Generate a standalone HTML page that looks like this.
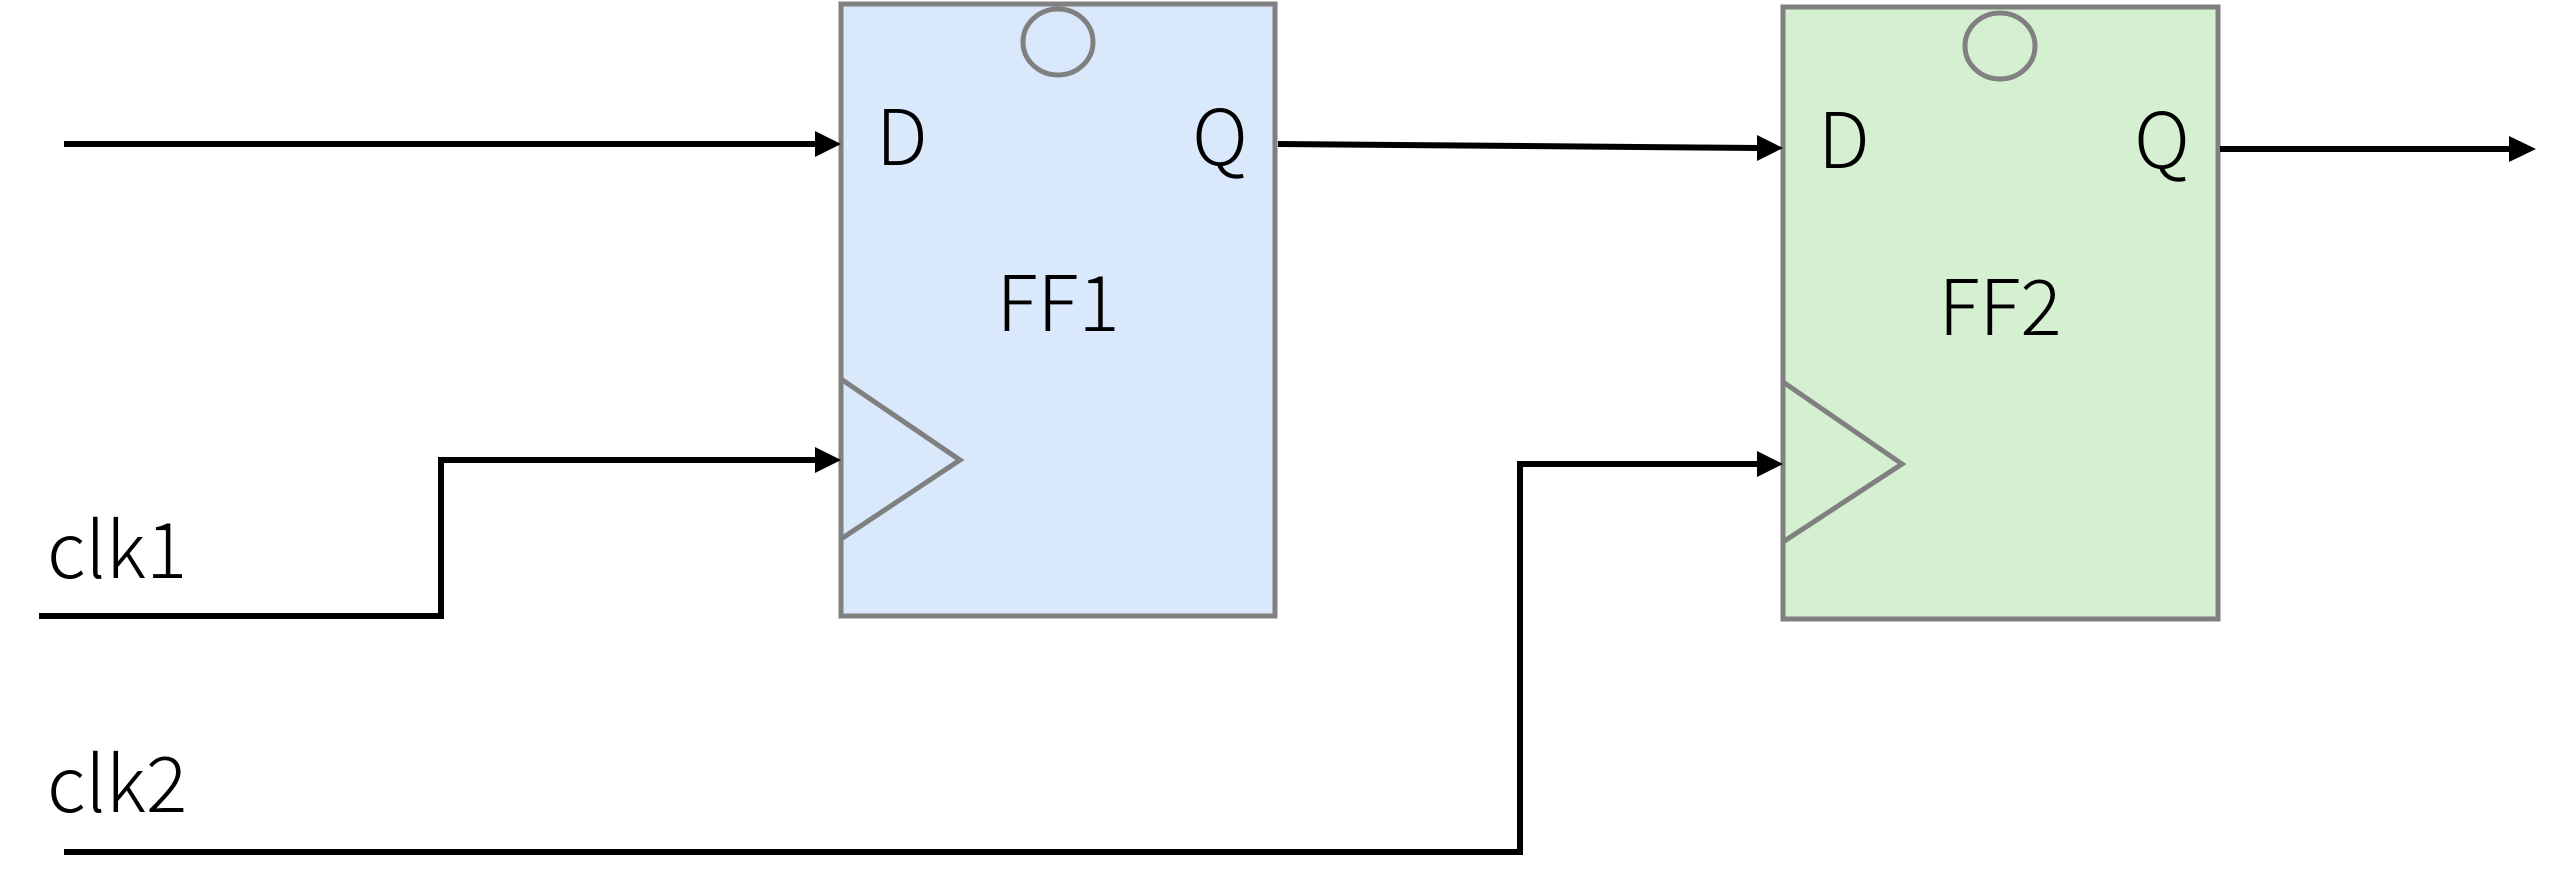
<!DOCTYPE html>
<html><head><meta charset="utf-8"><style>
html,body{margin:0;padding:0;background:#fff;width:2560px;height:884px;overflow:hidden}
svg{display:block}
text{font-family:"Noto Sans CJK JP","Liberation Sans",sans-serif;font-weight:300;font-size:77px;fill:#000}
</style></head><body>
<svg width="2560" height="884" viewBox="0 0 2560 884" xmlns="http://www.w3.org/2000/svg">
<!-- FF1 -->
<rect x="841" y="4" width="434" height="612" fill="#dae8fc" stroke="#808080" stroke-width="5"/>
<ellipse cx="1058" cy="42" rx="35" ry="33" fill="none" stroke="#808080" stroke-width="5"/>
<polyline points="841,379 960,460 841,539" fill="none" stroke="#808080" stroke-width="5"/>
<text x="876" y="165">D</text>
<text x="1192" y="165">Q</text>
<text x="1058" y="331" text-anchor="middle">FF1</text>
<!-- FF2 -->
<rect x="1783" y="7" width="435" height="612" fill="#d5f0d0" stroke="#808080" stroke-width="5"/>
<ellipse cx="2000" cy="46" rx="35" ry="33" fill="none" stroke="#808080" stroke-width="5"/>
<polyline points="1783,382 1902,464 1783,542" fill="none" stroke="#808080" stroke-width="5"/>
<text x="1818" y="168">D</text>
<text x="2134" y="168">Q</text>
<text x="2000" y="335" text-anchor="middle">FF2</text>
<!-- wires -->
<g stroke="#000" stroke-width="6" fill="none">
<line x1="64" y1="144" x2="818" y2="144"/>
<polyline points="39,616 441,616 441,460 818,460"/>
<line x1="1278" y1="144" x2="1760" y2="148"/>
<polyline points="64,852 1520,852 1520,464 1760,464"/>
<line x1="2220" y1="149" x2="2512" y2="149"/>
</g>
<g fill="#000">
<polygon points="841,144 815,131 815,157"/>
<polygon points="841,460 815,447 815,473"/>
<polygon points="1783,148 1757,135 1757,161"/>
<polygon points="1783,464 1757,451 1757,477"/>
<polygon points="2536,149 2509,136 2509,162"/>
</g>
<text x="47" y="578">clk1</text>
<text x="47" y="812">clk2</text>
</svg>
</body></html>
